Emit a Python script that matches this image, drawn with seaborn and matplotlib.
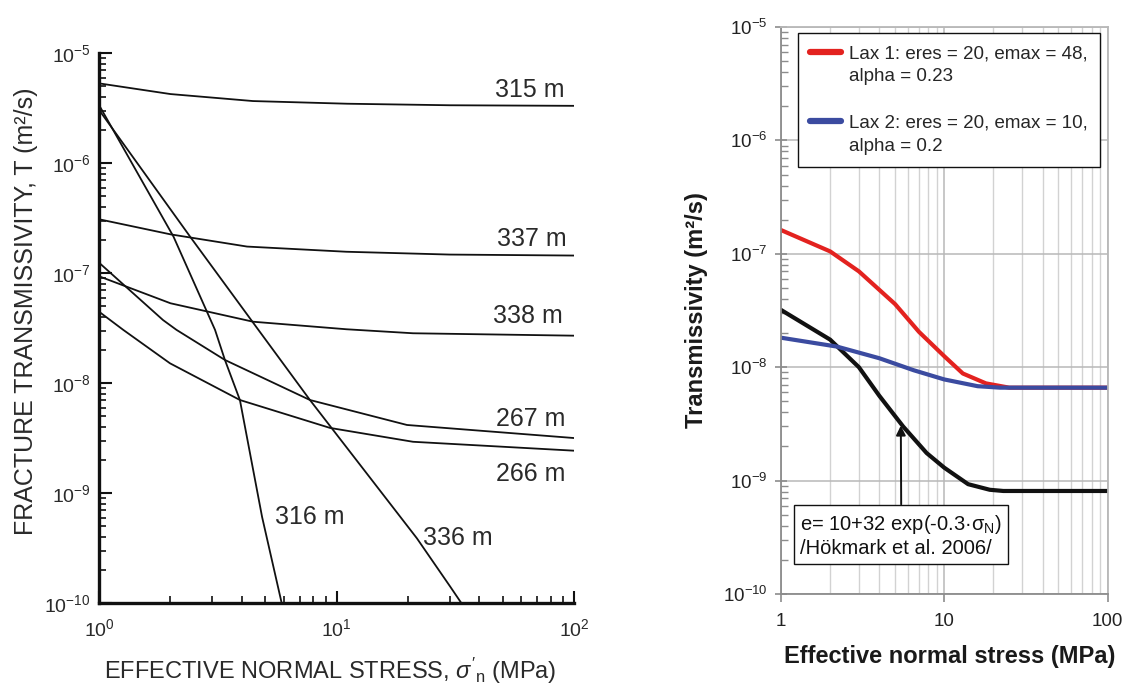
import numpy as np
import matplotlib
matplotlib.use("Agg")
import matplotlib.pyplot as plt
import seaborn as sns
from matplotlib.lines import Line2D
from matplotlib.ticker import NullFormatter, FixedLocator, LogFormatterSciNotation

# ---------------- Left panel data (fracture transmissivity vs stress) ----------------
x_315 = [1, 2.0, 4.45, 11.1, 30, 100]
t_315 = [5.33e-6, 4.26e-6, 3.68e-6, 3.48e-6, 3.37e-6, 3.33e-6]
x_337 = [1, 2, 4.2, 11, 30, 100]
t_337 = [3.10e-7, 2.26e-7, 1.75e-7, 1.57e-7, 1.48e-7, 1.45e-7]
x_338 = [1, 2, 4.45, 11, 21, 100]
t_338 = [9.4e-8, 5.34e-8, 3.63e-8, 3.10e-8, 2.85e-8, 2.71e-8]
x_267 = [1, 1.86, 2.12, 3.39, 7.73, 19.8, 100]
t_267 = [1.25e-7, 3.76e-8, 3.06e-8, 1.63e-8, 7.05e-9, 4.18e-9, 3.18e-9]
x_266 = [1, 1.265, 1.99, 3.92, 9.39, 21, 100]
t_266 = [4.48e-8, 3.06e-8, 1.52e-8, 7.05e-9, 3.93e-9, 2.94e-9, 2.44e-9]
x_316 = [1, 2.06, 3.08, 3.39, 3.92, 4.86, 5.88]
t_316 = [3.39e-6, 2.15e-7, 3.06e-8, 1.63e-8, 7.05e-9, 6.1e-10, 1e-10]
x_336 = [1, 2.42, 4.69, 7.73, 21.8, 30.1, 33.6]
t_336 = [3.06e-6, 2.15e-7, 3.06e-8, 7.05e-9, 3.9e-10, 1.42e-10, 1e-10]

left_labels = ["315 m", "337 m", "338 m", "267 m", "266 m", "316 m", "336 m"]
left_label_x = [91.6, 93.5, 89.7, 91.6, 91.6, 5.51, 23.1]
left_label_y = [4.61e-6, 2.05e-7, 4.09e-8, 4.73e-9, 1.50e-9, 6.12e-10, 3.93e-10]
left_label_ha = ["right", "right", "right", "right", "right", "left", "left"]

# ---------------- Right panel data ----------------
x_lax1 = [1, 2, 3, 5, 7, 10, 13, 18, 25, 100]
t_lax1 = [1.62e-7, 1.05e-7, 7.0e-8, 3.6e-8, 2.05e-8, 1.25e-8, 8.8e-9, 7.2e-9, 6.6e-9, 6.6e-9]
x_lax2 = [1, 2.2, 4, 6.5, 10, 16, 22, 100]
t_lax2 = [1.82e-8, 1.52e-8, 1.2e-8, 9.4e-9, 7.8e-9, 6.8e-9, 6.6e-9, 6.6e-9]
x_hok = [1, 2, 3, 4, 5.6, 7.8, 10, 14, 19, 23, 100]
t_hok = [3.2e-8, 1.75e-8, 1.0e-8, 5.6e-9, 3.0e-9, 1.75e-9, 1.3e-9, 9.3e-10, 8.3e-10, 8.1e-10, 8.1e-10]

decades_x = [1, 10, 100]
decades_y = [1e-10, 1e-9, 1e-8, 1e-7, 1e-6, 1e-5]
right_xticklabels = ['1', '10', '100']

legend_labels = ["Lax 1: eres = 20, emax = 48,", "alpha = 0.23", " ",
                 "Lax 2: eres = 20, emax = 10,", "alpha = 0.2"]
annot_text = "e= 10+32 exp(-0.3·σ$_\\mathregular{N}$)\n/Hökmark et al. 2006/"

RED = "#e3221f"
BLUE = "#3b4ba0"
BLACK = "#111111"

sns.set_theme(style="ticks")
plt.rcParams['font.family'] = ['Liberation Sans', 'DejaVu Sans']
plt.rcParams['mathtext.fontset'] = 'custom'
plt.rcParams['mathtext.rm'] = 'Liberation Sans'
plt.rcParams['mathtext.it'] = 'Liberation Sans:italic'
plt.rcParams['mathtext.bf'] = 'Liberation Sans:bold'


def minor_positions(decs):
    out = []
    for d in decs[:-1]:
        out.extend([d * k for k in range(2, 10)])
    return out


fig = plt.figure(figsize=(11.31, 6.89), dpi=100)

# ================= LEFT =================
axL = fig.add_axes([99 / 1131, 1 - 603.3 / 689, 475 / 1131, 550 / 689])
for xs, ts in [(x_315, t_315), (x_337, t_337), (x_338, t_338), (x_267, t_267),
               (x_266, t_266), (x_316, t_316), (x_336, t_336)]:
    sns.lineplot(x=xs, y=ts, ax=axL, color=BLACK, lw=1.3, estimator=None, sort=False)
axL.set_xscale('log')
axL.set_yscale('log')
axL.set_xlim(1, 100)
axL.set_ylim(1e-10, 1e-5)
for s in ['top', 'right']:
    axL.spines[s].set_visible(False)
for s in ['left', 'bottom']:
    axL.spines[s].set_linewidth(2.4)
    axL.spines[s].set_color(BLACK)
axL.xaxis.set_major_locator(FixedLocator(decades_x))
axL.yaxis.set_major_locator(FixedLocator(decades_y))
axL.xaxis.set_major_formatter(LogFormatterSciNotation())
axL.yaxis.set_major_formatter(LogFormatterSciNotation())
axL.xaxis.set_minor_locator(FixedLocator(minor_positions(decades_x)))
axL.yaxis.set_minor_locator(FixedLocator(minor_positions(decades_y)))
axL.xaxis.set_minor_formatter(NullFormatter())
axL.yaxis.set_minor_formatter(NullFormatter())
axL.tick_params(which='major', direction='in', length=9, width=1.5, labelsize=14,
                colors=BLACK, labelcolor='#2a2a2a', pad=6)
axL.tick_params(which='minor', direction='in', length=5, width=1.2, colors=BLACK)
axL.tick_params(axis='x', which='major', pad=11)
axL.set_xlabel("EFFECTIVE NORMAL STRESS, $\\sigma'_\\mathregular{n}$ (MPa)", fontsize=17,
               color='#2a2a2a')
axL.xaxis.set_label_coords((330 - 99) / 475, (603 - 671) / 550)
axL.xaxis.label.set_va('center')
axL.set_ylabel("FRACTURE TRANSMISSIVITY, T (m²/s)", fontsize=18, color='#2a2a2a', va='center')
axL.yaxis.set_label_coords((26 - 99) / 475, (603 - 311) / 550)
for lab, lx, ly, ha in zip(left_labels, left_label_x, left_label_y, left_label_ha):
    axL.text(lx, ly, lab, ha=ha, va='center', fontsize=18, color='#2a2a2a')

# ================= RIGHT =================
axR = fig.add_axes([781 / 1131, 1 - 594 / 689, 326.5 / 1131, 567 / 689])
axR.set_xscale('log')
axR.set_yscale('log')
axR.set_axisbelow(True)
sns.lineplot(x=x_lax1, y=t_lax1, ax=axR, color=RED, lw=3.0, estimator=None, sort=False)
sns.lineplot(x=x_hok, y=t_hok, ax=axR, color=BLACK, lw=3.0, estimator=None, sort=False)
sns.lineplot(x=x_lax2, y=t_lax2, ax=axR, color=BLUE, lw=3.0, estimator=None, sort=False)
axR.set_xlim(1, 100)
axR.set_ylim(1e-10, 1e-5)
for s in axR.spines.values():
    s.set_color('#8c8c8c')
    s.set_linewidth(1.3)
axR.spines['top'].set_color('#b8b8b8')
axR.spines['right'].set_color('#b8b8b8')
axR.xaxis.set_major_locator(FixedLocator(decades_x))
axR.set_xticklabels(right_xticklabels)
axR.xaxis.set_minor_locator(FixedLocator(minor_positions(decades_x)))
axR.xaxis.set_minor_formatter(NullFormatter())
axR.yaxis.set_major_locator(FixedLocator(decades_y))
axR.yaxis.set_major_formatter(LogFormatterSciNotation())
axR.yaxis.set_minor_locator(FixedLocator(minor_positions(decades_y)))
axR.yaxis.set_minor_formatter(NullFormatter())
axR.grid(which='major', axis='both', color='#b8b8b8', lw=1.1)
axR.grid(which='minor', axis='x', color='#d2d2d2', lw=1.0)
axR.tick_params(axis='y', which='major', direction='inout', length=9, width=1.2,
                colors='#8c8c8c', labelcolor='#222222', labelsize=13.5, pad=5)
axR.tick_params(axis='y', which='minor', direction='in', length=5, width=1.0, colors='#8c8c8c')
axR.tick_params(axis='x', which='major', direction='out', length=6, width=1.2,
                colors='#8c8c8c', labelcolor='#222222', labelsize=13.5, pad=8)
axR.tick_params(axis='x', which='minor', length=0)
axR.set_xlabel("Effective normal stress (MPa)", fontsize=17, fontweight='bold', color='#1a1a1a')
axR.xaxis.set_label_coords((950 - 781) / 326.5, (594 - 657) / 567)
axR.xaxis.label.set_va('center')
axR.set_ylabel("Transmissivity (m²/s)", fontsize=17, fontweight='bold', color='#1a1a1a', va='center')
axR.yaxis.set_label_coords((697 - 781) / 326.5, 0.5)

handles = [Line2D([], [], color=RED, lw=4.5), Line2D([], [], color='none'),
           Line2D([], [], color='none'), Line2D([], [], color=BLUE, lw=4.5),
           Line2D([], [], color='none')]
leg = axR.legend(handles, legend_labels, loc='upper left',
                 bbox_to_anchor=((798 - 781) / 326.5, (594 - 33) / 567), borderaxespad=0,
                 fontsize=13.5, frameon=True, fancybox=False, framealpha=1,
                 edgecolor=BLACK, handlelength=1.65, handletextpad=0.4,
                 labelspacing=0.32, borderpad=0.65)
leg.get_frame().set_linewidth(1.0)

axR.annotate(annot_text, xy=(5.42, 3.05e-9), xytext=(5.45, 3.29e-10),
             ha='center', va='center', multialignment='left', fontsize=14.5, color='#111',
             bbox=dict(boxstyle='square,pad=0.3', fc='white', ec=BLACK, lw=1.0),
             arrowprops=dict(arrowstyle='-|>', color=BLACK, lw=1.4, shrinkA=0, shrinkB=0,
                             mutation_scale=14, relpos=(0.5, 1.0)))

fig.savefig("out.png", dpi=100)
